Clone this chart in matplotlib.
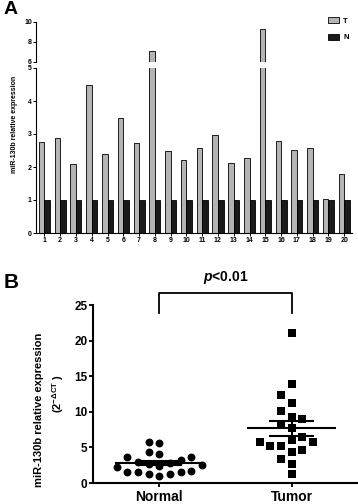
import numpy as np
import matplotlib
matplotlib.use('Agg')
import matplotlib.pyplot as plt
from matplotlib.patches import Patch

plt.rcParams['font.family'] = ['Liberation Sans', 'DejaVu Sans']
plt.rcParams['font.weight'] = 'bold'
plt.rcParams['mathtext.fontset'] = 'custom'
plt.rcParams['mathtext.rm'] = 'Liberation Sans:bold'
plt.rcParams['mathtext.bf'] = 'Liberation Sans:bold'
plt.rcParams['mathtext.it'] = 'Liberation Sans:italic:bold'
plt.rcParams['mathtext.bfit'] = 'Liberation Sans:italic:bold'

# panel A data
samples = list(range(1, 21))
tumor_rel = [2.75, 2.88, 2.10, 4.50, 2.40, 3.50, 2.72, 7.10, 2.47, 2.20,
             2.57, 2.97, 2.12, 2.28, 9.30, 2.78, 2.52, 2.57, 1.03, 1.78]
normal_rel = [1.0] * 20

# panel B data
normal_vals = [5.8, 5.6, 4.4, 4.1, 3.6, 3.7, 3.3, 3.0, 2.8, 2.6,
               2.5, 2.4, 2.2, 1.7, 1.5, 1.2, 1.0, 1.2, 1.5, 1.6]
tumor_vals = [21.0, 13.9, 12.4, 11.2, 10.1, 9.2, 9.0, 8.2, 7.7, 6.05,
              6.4, 5.7, 5.2, 5.2, 5.7, 4.4, 4.7, 3.4, 2.7, 1.3]
groups = ['Normal', 'Tumor']

W, H = 358, 504
fig = plt.figure(figsize=(W / 100, H / 100), dpi=100)


def px_axes(x0, y0, x1, y1):
    return fig.add_axes([x0 / W, 1 - y1 / H, (x1 - x0) / W, (y1 - y0) / H])


# ---------- panel A (broken axis bar chart) ----------
ax_top = px_axes(36, 22, 352, 62)
ax_bot = px_axes(36, 68, 352, 233)
x = np.array(samples)
bw = 0.35
for ax in (ax_top, ax_bot):
    ax.bar(x - bw / 2, tumor_rel, bw, color='#b4b4b4', edgecolor='black', linewidth=0.6)
    ax.bar(x + bw / 2, normal_rel, bw, color='#1a1a1a', edgecolor='black', linewidth=0.6)
    ax.set_xlim(0.47, 20.49)
    for s in ('top', 'right'):
        ax.spines[s].set_visible(False)
    ax.spines['left'].set_linewidth(0.8)
    ax.spines['bottom'].set_linewidth(0.8)
    ax.tick_params(length=2, width=0.7, labelsize=5, pad=1)

ax_top.set_ylim(6, 10)
ax_top.set_yticks([6, 8, 10])
ax_top.spines['bottom'].set_visible(False)
ax_top.set_xticks([])

ax_bot.set_ylim(0, 5)
ax_bot.set_yticks(range(0, 6))
ax_bot.set_xticks(samples)
ax_bot.set_xticklabels([str(s) for s in samples])

fig.text(15 / W, 1 - 124 / H, 'miR-130b relative expression', rotation=90,
         ha='center', va='center', fontsize=5, fontweight='bold')
fig.text(4 / W, 1 - 10 / H, 'A', fontsize=14, fontweight='bold', ha='left', va='center')

handles = [Patch(facecolor='#b4b4b4', edgecolor='black', linewidth=0.6),
           Patch(facecolor='#1a1a1a', edgecolor='black', linewidth=0.6)]
fig.legend(handles, ['T', 'N'], loc='upper left', bbox_to_anchor=(325 / W, 1 - 14 / H),
           frameon=False, fontsize=5.5, handlelength=1.4, handleheight=0.8,
           handletextpad=0.6, labelspacing=1.2, borderaxespad=0)

# ---------- panel B (scatter with mean +/- SEM) ----------
axB = px_axes(93, 305, 358, 483)
axB.set_xlim(0.5, 2.5)
axB.set_ylim(0, 25)
ppu = 178 / 25.0          # pixels per y unit
step = 10.7 / 133.0       # column spacing in data units


def swarm(vals, d_px=9.5):
    # simple column scatter: put each point in the nearest free column
    order = np.argsort(vals)
    cols = {}
    xs = np.zeros(len(vals))
    tries = [0]
    for n in range(1, 20):
        tries += [-n, n]
    for i in order:
        v = vals[i]
        for k in tries:
            if all(abs(v - vv) * ppu >= d_px for vv in cols.get(k, [])):
                break
        cols.setdefault(k, []).append(v)
        xs[i] = k * step
    return xs


for i, (vals, mk) in enumerate([(normal_vals, 'o'), (tumor_vals, 's')]):
    vals = np.array(vals)
    pos = i + 1
    axB.scatter(pos + swarm(vals), vals, marker=mk, s=32, color='black', zorder=3, linewidths=0)
    m = vals.mean()
    se = vals.std(ddof=1) / np.sqrt(len(vals))
    axB.hlines(m, pos - 0.335, pos + 0.335, color='black', lw=1.5, zorder=4)
    axB.hlines([m - se, m + se], pos - 0.17, pos + 0.17, color='black', lw=1.5, zorder=4)
    axB.vlines(pos, m - se, m + se, color='black', lw=1.5, zorder=4)

axB.set_xticks([1, 2])
axB.set_xticklabels(groups, fontsize=10, fontweight='bold')
axB.set_yticks(range(0, 26, 5))
axB.tick_params(axis='y', labelsize=8.5, length=3, width=1.3, pad=1)
axB.tick_params(axis='x', length=3, width=1.3, pad=2)
for s in ('top', 'right'):
    axB.spines[s].set_visible(False)
axB.spines['left'].set_linewidth(1.5)
axB.spines['bottom'].set_linewidth(1.5)

axB.plot([1, 1, 2, 2], [23.9, 26.7, 26.7, 23.9], color='black', lw=1.3, clip_on=False)
axB.text(1.5, 28.9, r'$\mathbfit{p}$<0.01', ha='center', va='center', fontsize=10,
         fontweight='bold', clip_on=False)

fig.text(39 / W, 1 - 410 / H, 'miR-130b relative expression', rotation=90,
         ha='center', va='center', fontsize=8, fontweight='bold')
fig.text(58 / W, 1 - 393 / H, r'(2$^{\mathbf{-\Delta CT}}$ )', rotation=90,
         ha='center', va='center', fontsize=8, fontweight='bold')
fig.text(4 / W, 1 - 283 / H, 'B', fontsize=15, fontweight='bold', ha='left', va='center')

fig.savefig('out.png', dpi=100)
